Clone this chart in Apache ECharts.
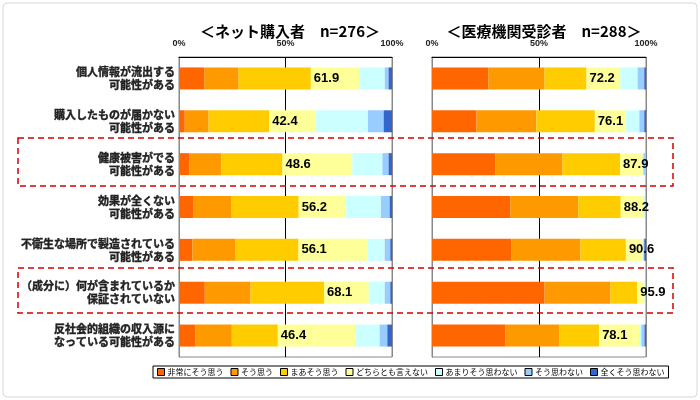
<!DOCTYPE html>
<html>
<head>
<meta charset="utf-8">
<script src="https://cdn.jsdelivr.net/npm/echarts@6/dist/echarts.min.js"></script>
<style>
  html, body { margin: 0; padding: 0; background: #fff; }
  #main { width: 700px; height: 400px; }
</style>
</head>
<body>
<div id="main"></div>
<script>
// categories (top to bottom)
var items = [
  '個人情報が流出する\n可能性がある',
  '購入したものが届かない\n可能性がある',
  '健康被害がでる\n可能性がある',
  '効果が全くない\n可能性がある',
  '不衛生な場所で製造されている\n可能性がある',
  '（成分に）何が含まれているか\n保証されていない',
  '反社会的組織の収入源に\nなっている可能性がある'
];
var levels = ['非常にそう思う', 'そう思う', 'まあそう思う', 'どちらとも言えない', 'あまりそう思わない', 'そう思わない', '全くそう思わない'];
var levelColors = ['#ff6600', '#ff9900', '#ffcc00', '#ffff99', '#ccffff', '#99ccff', '#3366cc'];
var ticks = [0, 50, 100];

// ネット購入者 n=276 (%)
var netVeryMuch   = [12.0, 2.7, 5.0, 6.9, 6.3, 12.1, 7.8];
var netYes        = [16.0, 11.2, 14.9, 17.8, 20.3, 21.5, 17.0];
var netSomewhat   = [33.9, 28.5, 28.7, 31.5, 29.5, 34.5, 21.6];
var netNeutral    = [23.0, 21.8, 32.8, 22.1, 32.3, 21.0, 36.4];
var netNotReally  = [11.7, 24.5, 14.1, 16.5, 8.2, 7.5, 11.4];
var netNo         = [1.8, 7.4, 2.9, 4.1, 2.6, 2.6, 3.6];
var netNotAtAll   = [1.6, 3.9, 1.6, 1.1, 0.8, 0.8, 2.2];
var netTop3       = [61.9, 42.4, 48.6, 56.2, 56.1, 68.1, 46.4];

// 医療機関受診者 n=288 (%)
var clinVeryMuch  = [26.4, 20.8, 29.7, 36.7, 37.2, 52.6, 34.4];
var clinYes       = [26.2, 28.0, 31.3, 31.7, 32.2, 30.8, 25.2];
var clinSomewhat  = [19.6, 27.3, 26.9, 19.8, 21.2, 12.5, 18.5];
var clinNeutral   = [15.8, 14.3, 10.6, 10.6, 7.8, 3.4, 18.8];
var clinNotReally = [8.1, 6.5, 0.3, 0.7, 0.4, 0.4, 0.9];
var clinNo        = [3.1, 2.3, 1.1, 0.5, 0.4, 0.3, 1.5];
var clinNotAtAll  = [0.8, 0.8, 0.0, 0.0, 0.8, 0.0, 0.7];
var clinTop3      = [72.2, 76.1, 87.9, 88.2, 90.6, 95.9, 78.1];

var netData = [netVeryMuch, netYes, netSomewhat, netNeutral, netNotReally, netNo, netNotAtAll];
var clinData = [clinVeryMuch, clinYes, clinSomewhat, clinNeutral, clinNotReally, clinNo, clinNotAtAll];

var jp = '"Noto Sans CJK JP", "Noto Sans", sans-serif';

function makeSeries(data, top3, idx) {
  return levels.map(function (name, i) {
    var s = {
      name: name,
      type: 'bar',
      stack: 'g' + idx,
      xAxisIndex: idx,
      yAxisIndex: idx,
      barWidth: 22,
      itemStyle: { color: levelColors[i] },
      data: data[i]
    };
    if (i === 3) {
      s.label = {
        show: true,
        position: 'insideLeft',
        distance: 3,
        color: '#000',
        fontSize: 13,
        fontWeight: 'bold',
        fontFamily: '"Liberation Sans", Arial, sans-serif',
        formatter: function (p) { return top3[p.dataIndex].toFixed(1); }
      };
    }
    return s;
  });
}

function makeX(idx) {
  return {
    type: 'value',
    gridIndex: idx,
    position: 'top',
    min: ticks[0],
    max: ticks[ticks.length - 1],
    interval: 50,
    axisLine: { show: true, lineStyle: { color: '#000', width: 1 } },
    axisTick: { show: false },
    axisLabel: {
      margin: 9,
      fontSize: 9,
      fontWeight: 'bold',
      color: '#222',
      fontFamily: '"Liberation Sans", Arial, sans-serif',
      formatter: '{value}%'
    },
    splitLine: { show: true, lineStyle: { color: ['#888', '#000', '#888'], width: 1 } }
  };
}

function makeY(idx, showLabels) {
  return {
    type: 'category',
    gridIndex: idx,
    inverse: true,
    data: items,
    axisLine: { show: true, lineStyle: { color: '#888' } },
    axisTick: { show: false },
    axisLabel: {
      show: showLabels,
      margin: 4,
      fontSize: 11,
      lineHeight: 13,
      fontWeight: 'bold',
      color: '#222',
      textBorderColor: '#222',
      textBorderWidth: 0.4,
      fontFamily: jp
    }
  };
}

var chart = echarts.init(document.getElementById('main'));
chart.setOption({
  animation: false,
  backgroundColor: '#fff',
  title: [
    {
      text: '＜ネット購入者　n=276＞',
      left: 285, top: 19, textAlign: 'center',
      textStyle: { fontSize: 15, fontWeight: 'bold', color: '#000', fontFamily: jp }
    },
    {
      text: '＜医療機関受診者　n=288＞',
      left: 539, top: 19, textAlign: 'center',
      textStyle: { fontSize: 15, fontWeight: 'bold', color: '#000', fontFamily: jp }
    }
  ],
  legend: {
    data: levels,
    left: 153,
    top: 366,
    itemWidth: 7,
    itemHeight: 7,
    itemGap: 7,
    padding: [2, 4],
    borderColor: '#000',
    borderWidth: 1,
    icon: 'rect',
    itemStyle: { borderColor: '#000', borderWidth: 1 },
    textStyle: { fontSize: 8, color: '#000', fontFamily: jp, padding: [0, 0, 0, -2] }
  },
  grid: [
    { left: 179, top: 57, width: 213, height: 300, show: true, borderColor: '#888', borderWidth: 1 },
    { left: 432, top: 57, width: 214, height: 300, show: true, borderColor: '#888', borderWidth: 1 }
  ],
  xAxis: [makeX(0), makeX(1)],
  yAxis: [makeY(0, true), makeY(1, false)],
  series: makeSeries(netData, netTop3, 0).concat(makeSeries(clinData, clinTop3, 1)),
  graphic: [
    {
      type: 'rect', silent: true, z: 0,
      shape: { x: 3, y: 3, width: 694, height: 394, r: 4 },
      style: { fill: 'none', stroke: '#d8d8d8', lineWidth: 1 }
    },
    {
      type: 'rect', silent: true, z: 100,
      shape: { x: 18, y: 138, width: 655, height: 48 },
      style: { fill: 'none', stroke: '#d40000', lineWidth: 1.5, lineDash: [6, 4] }
    },
    {
      type: 'rect', silent: true, z: 100,
      shape: { x: 18, y: 268, width: 655, height: 45 },
      style: { fill: 'none', stroke: '#d40000', lineWidth: 1.5, lineDash: [6, 4] }
    }
  ]
});
</script>
</body>
</html>
